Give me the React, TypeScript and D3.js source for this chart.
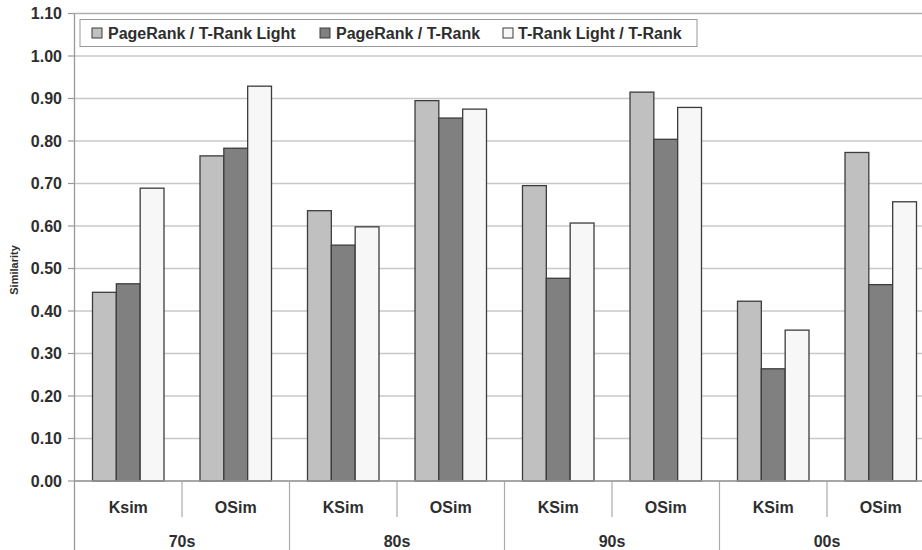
import React from "react";
import * as d3 from "d3";

const groups = ["70s", "80s", "90s", "00s"];
const subLabels = ["Ksim", "OSim", "KSim", "OSim", "KSim", "OSim", "KSim", "OSim"];
const seriesNames = ["PageRank / T-Rank Light", "PageRank / T-Rank", "T-Rank Light / T-Rank"];
const prVsLight = [0.444, 0.765, 0.636, 0.895, 0.695, 0.915, 0.423, 0.773];
const prVsTRank = [0.464, 0.783, 0.555, 0.854, 0.477, 0.804, 0.264, 0.462];
const lightVsTRank = [0.689, 0.929, 0.598, 0.875, 0.607, 0.879, 0.355, 0.657];
const yTicks = [0, 0.1, 0.2, 0.3, 0.4, 0.5, 0.6, 0.7, 0.8, 0.9, 1.0, 1.1];
const seriesValues = [prVsLight, prVsTRank, lightVsTRank];
const seriesColors = ["#c0c0c0", "#808080", "#f7f7f7"];

const W = 922;
const H = 550;
const left = 74.5;
const step = 107.5;
const top = 13.5;
const bottom = 481;

export default function App() {
  const x = d3
    .scaleBand<number>()
    .domain(subLabels.map((_, i) => i))
    .range([left, left + step * subLabels.length])
    .padding(0);
  const inner = d3
    .scaleBand<number>()
    .domain([0, 1, 2])
    .range([18, step - 18])
    .padding(0);
  const y = d3.scaleLinear().domain([0, 1.1]).range([bottom, top]);
  const font = "'Liberation Sans', Arial, sans-serif";
  const textColor = "#2e2e2e";

  const legendItems = [
    { sq: 92, tx: 108 },
    { sq: 320, tx: 336 },
    { sq: 503, tx: 518 },
  ];

  return (
    <svg
      width={W}
      height={H}
      style={{ position: "absolute", left: 0, top: 0, background: "#fff" }}
      fontFamily={font}
    >
      <rect x={0} y={0} width={W} height={H} fill="#fff" />
      {yTicks.map((t) => (
        <line
          key={"g" + t}
          x1={left}
          x2={W}
          y1={y(t)}
          y2={y(t)}
          stroke={t === 1.1 ? "#b0b0b0" : "#c8c8c8"}
          strokeWidth={1.5}
        />
      ))}
      {yTicks.map((t) => (
        <g key={"t" + t}>
          <line x1={68} x2={left} y1={y(t)} y2={y(t)} stroke="#999" strokeWidth={1.2} />
          <text
            x={62}
            y={y(t) + 5.7}
            textAnchor="end"
            fontSize={16}
            fontWeight="bold"
            fill={textColor}
          >
            {t.toFixed(2)}
          </text>
        </g>
      ))}
      {subLabels.map((_, i) => (
        <g key={"b" + i} transform={`translate(${x(i)},0)`}>
          {seriesValues.map((vals, s) => (
            <rect
              key={s}
              x={inner(s)}
              y={y(vals[i])}
              width={inner.bandwidth()}
              height={bottom - y(vals[i])}
              fill={seriesColors[s]}
              stroke="#3c3c3c"
              strokeWidth={1.3}
            />
          ))}
        </g>
      ))}
      <line x1={left} x2={left} y1={top} y2={H} stroke="#999" strokeWidth={1.3} />
      <line x1={left} x2={W} y1={bottom} y2={bottom} stroke="#999" strokeWidth={1.3} />
      {subLabels.map((_, i) =>
        i === 0 ? null : (
          <line
            key={"s" + i}
            x1={x(i)!}
            x2={x(i)!}
            y1={bottom}
            y2={i % 2 === 0 ? H : 517}
            stroke="#aaa"
            strokeWidth={1.2}
          />
        )
      )}
      {subLabels.map((lab, i) => (
        <text
          key={"sl" + i}
          x={x(i)! + x.bandwidth() / 2}
          y={512.5}
          textAnchor="middle"
          fontSize={16}
          fontWeight="bold"
          fill={textColor}
        >
          {lab}
        </text>
      ))}
      {groups.map((g, gi) => (
        <text
          key={"gl" + gi}
          x={x(gi * 2)! + x.bandwidth()}
          y={546.5}
          textAnchor="middle"
          fontSize={16}
          fontWeight="bold"
          fill={textColor}
        >
          {g}
        </text>
      ))}
      <text
        transform={`translate(18,270) rotate(-90)`}
        textAnchor="middle"
        fontSize={11}
        fontWeight="bold"
        fill={textColor}
      >
        Similarity
      </text>
      <rect x={80} y={19.5} width={617} height={27} fill="#fff" stroke="#999" strokeWidth={1} />
      {seriesNames.map((name, s) => (
        <g key={"l" + s}>
          <rect
            x={legendItems[s].sq}
            y={28}
            width={10}
            height={10}
            fill={seriesColors[s]}
            stroke="#3c3c3c"
            strokeWidth={1}
          />
          <text
            x={legendItems[s].tx}
            y={38.7}
            fontSize={16}
            fontWeight="bold"
            fill={textColor}
          >
            {name}
          </text>
        </g>
      ))}
    </svg>
  );
}
